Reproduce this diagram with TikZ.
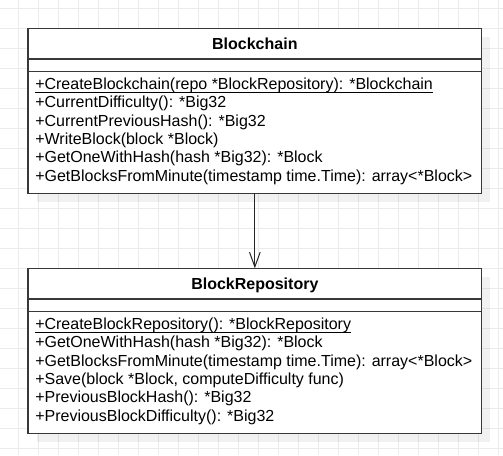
\documentclass[tikz,border=0pt]{standalone}
\usepackage{fontspec}
\setmainfont{Liberation Sans}
\usetikzlibrary{arrows.meta}
\begin{document}
\begin{tikzpicture}[x=0.75pt,y=-0.75pt,
  classbox/.style={draw=black!78, line width=0.9pt, fill=white, inner sep=0, outer sep=0, anchor=north west, minimum width=453.7*0.75pt, minimum height=164.8*0.75pt},
  shadowbox/.style={fill=black, fill opacity=0.055, draw=none, inner sep=0, outer sep=0, anchor=north west, minimum width=453.7*0.75pt, minimum height=164.8*0.75pt},
  divider/.style={draw=black!78, line width=0.9pt},
  member/.style={inner sep=0, anchor=base west, font=\fontsize{12pt}{14pt}\selectfont, text=black},
  classtitle/.style={inner sep=0, anchor=base, font=\fontsize{12pt}{14pt}\selectfont\bfseries, text=black},
  gridline/.style={draw=black!8, line width=0.75pt},
  uline/.style={draw=black, line width=0.75pt},
  assoc/.style={draw=black!85, line width=0.75pt, -{Straight Barb[length=11pt,width=8pt]}},
]
\useasboundingbox[fill=white] (0,0) rectangle (503,455);
% grid
\foreach \i in {0,...,24} \draw[gridline] ({18.3+20*\i},0) -- ({18.3+20*\i},455);
\foreach \j in {0,...,22} \draw[gridline] (0,{8.3+20*\j}) -- (503,{8.3+20*\j});

% shadows
\node[shadowbox] (bcs) at (36.5,36.8) {};
\node[shadowbox] (brs) at (36.5,276.8) {};

% Blockchain class
\node[classbox] (bc) at (28,28.3) {};
\draw[divider] ([yshift=-30.7*0.75pt]bc.north west) -- ([yshift=-30.7*0.75pt]bc.north east);
\draw[divider] ([yshift=-43.4*0.75pt]bc.north west) -- ([yshift=-43.4*0.75pt]bc.north east);
\node[classtitle] (bct) at (254.85,49.3) {Blockchain};
\node[member] (a1) at (35,89.3) {+CreateBlockchain(repo *BlockRepository): *Blockchain};
\draw[uline] ([yshift=-3.5*0.75pt]a1.base west) -- ([yshift=-3.5*0.75pt]a1.base east);
\node[member] (a2) at (35,107.7) {+CurrentDifficulty(): *Big32};
\node[member] (a3) at (35,126.1) {+CurrentPreviousHash(): *Big32};
\node[member] (a4) at (35,144.5) {+WriteBlock(block *Block)};
\node[member] (a5) at (35,162.9) {+GetOneWithHash(hash *Big32): *Block};
\node[member] (a6) at (35,181.3) {+GetBlocksFromMinute(timestamp time.Time): array<*Block>};

% BlockRepository class
\node[classbox] (br) at (28,268.3) {};
\draw[divider] ([yshift=-30.7*0.75pt]br.north west) -- ([yshift=-30.7*0.75pt]br.north east);
\draw[divider] ([yshift=-43.4*0.75pt]br.north west) -- ([yshift=-43.4*0.75pt]br.north east);
\node[classtitle] (brt) at (254.85,289.3) {BlockRepository};
\node[member] (b1) at (35,329.3) {+CreateBlockRepository(): *BlockRepository};
\draw[uline] ([yshift=-3.5*0.75pt]b1.base west) -- ([yshift=-3.5*0.75pt]b1.base east);
\node[member] (b2) at (35,347.7) {+GetOneWithHash(hash *Big32): *Block};
\node[member] (b3) at (35,366.1) {+GetBlocksFromMinute(timestamp time.Time): array<*Block>};
\node[member] (b4) at (35,384.5) {+Save(block *Block, computeDifficulty func)};
\node[member] (b5) at (35,402.9) {+PreviousBlockHash(): *Big32};
\node[member] (b6) at (35,421.3) {+PreviousBlockDifficulty(): *Big32};

% association
\draw[assoc] (bc.south) -- (br.north);
\end{tikzpicture}
\end{document}
